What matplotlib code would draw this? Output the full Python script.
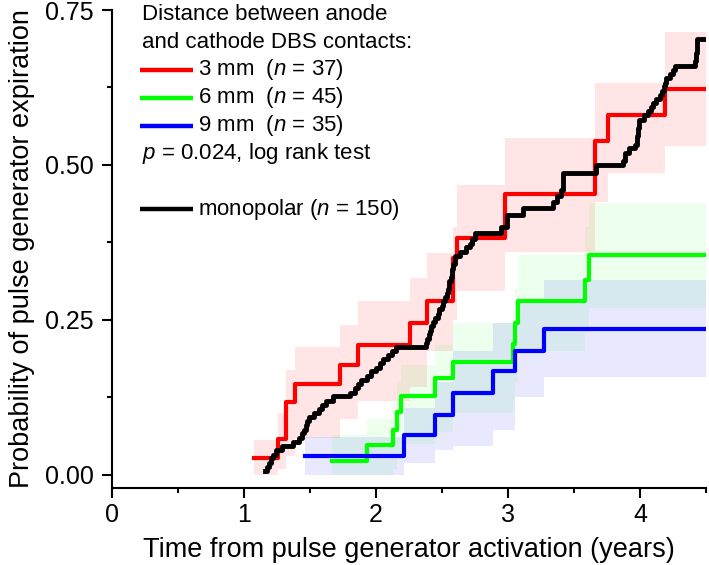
import matplotlib
matplotlib.use('Agg')
from matplotlib import pyplot as plt
from matplotlib.ticker import MultipleLocator, FormatStrFormatter
import numpy as np

plt.rcParams['font.family'] = ['Liberation Sans', 'DejaVu Sans']
plt.rcParams['mathtext.fontset'] = 'custom'
plt.rcParams['mathtext.rm'] = 'Liberation Sans'
plt.rcParams['mathtext.it'] = 'Liberation Sans:italic'

# 3 mm group (n = 37): step times, cumulative probability and CI band
red_t = [1.075, 1.255, 1.32, 1.386, 1.727, 1.866, 2.258, 2.384, 2.586, 2.61,
         2.977, 3.66, 3.76, 4.19, 4.5]
red_p = [0.028, 0.058, 0.117, 0.146, 0.177, 0.209, 0.245, 0.28, 0.35, 0.382,
         0.454, 0.538, 0.58, 0.622, 0.622]
red_hi = [0.056, 0.10, 0.17, 0.207, 0.242, 0.28, 0.317, 0.358, 0.40, 0.468,
          0.543, 0.632, 0.632, 0.715, 0.715]
red_lo = [0.0, 0.01, 0.03, 0.06, 0.09, 0.12, 0.142, 0.20, 0.25, 0.296,
          0.36, 0.44, 0.487, 0.53, 0.53]

# 6 mm group (n = 45)
green_t = [1.664, 1.93, 2.13, 2.157, 2.19, 2.45, 2.586, 3.04, 3.05, 3.078,
           3.58, 3.61, 4.5]
green_p = [0.022, 0.048, 0.073, 0.102, 0.128, 0.156, 0.183, 0.212, 0.245, 0.28,
           0.315, 0.355, 0.355]
green_hi = [0.065, 0.09, 0.12, 0.15, 0.177, 0.21, 0.245, 0.27, 0.30, 0.355,
            0.40, 0.438, 0.438]
green_lo = [0.0, 0.0, 0.01, 0.03, 0.05, 0.07, 0.10, 0.12, 0.15, 0.20,
            0.23, 0.269, 0.269]

# 9 mm group (n = 35)
blue_t = [1.46, 2.21, 2.45, 2.586, 2.89, 3.05, 3.27, 4.5]
blue_p = [0.031, 0.065, 0.097, 0.132, 0.167, 0.2, 0.235, 0.235]
blue_hi = [0.062, 0.108, 0.15, 0.20, 0.245, 0.28, 0.315, 0.315]
blue_lo = [0.0, 0.02, 0.04, 0.046, 0.073, 0.126, 0.158, 0.158]

# monopolar (n = 150)
black_t = [1.159, 1.175, 1.19, 1.205, 1.22, 1.245, 1.29, 1.37,
           1.42, 1.44, 1.455, 1.47, 1.48, 1.49, 1.53, 1.57, 1.59, 1.62, 1.675,
           1.80, 1.84, 1.86, 1.89, 1.93, 1.96, 2.0, 2.03, 2.05, 2.09, 2.12, 2.15,
           2.38, 2.39, 2.40, 2.41, 2.42, 2.43, 2.45, 2.47, 2.48, 2.50, 2.51, 2.52,
           2.535, 2.545, 2.555, 2.565, 2.575, 2.585, 2.595, 2.60, 2.64, 2.68,
           2.71, 2.73, 2.75, 2.95, 2.99, 3.116, 3.34, 3.37, 3.40, 3.415, 3.42,
           3.67, 3.87, 3.885, 3.92, 3.96, 3.975, 3.985, 3.995, 4.03, 4.06, 4.08,
           4.10, 4.12, 4.15, 4.17, 4.18, 4.19, 4.20, 4.23, 4.25, 4.265, 4.417,
           4.425, 4.43, 4.5]
black_p = [0.007, 0.013, 0.02, 0.027, 0.033, 0.04, 0.047, 0.053,
           0.06, 0.067, 0.073, 0.08, 0.087, 0.094, 0.1, 0.107, 0.113, 0.12, 0.127,
           0.133, 0.14, 0.147, 0.153, 0.16, 0.167, 0.173, 0.18, 0.187, 0.193, 0.2, 0.207,
           0.213, 0.22, 0.227, 0.233, 0.24, 0.247, 0.253, 0.26, 0.267, 0.273, 0.28, 0.287,
           0.293, 0.3, 0.313, 0.32, 0.333, 0.34, 0.347, 0.353, 0.36, 0.367,
           0.373, 0.38, 0.39, 0.40, 0.42, 0.43, 0.44, 0.45, 0.46, 0.473, 0.487,
           0.50, 0.507, 0.52, 0.527, 0.533, 0.547, 0.56, 0.573, 0.58, 0.587, 0.593,
           0.60, 0.607, 0.613, 0.62, 0.627, 0.633, 0.64, 0.647, 0.653, 0.66, 0.667,
           0.68, 0.704, 0.704]

groups = [
    (red_t, red_p, red_lo, red_hi, '#ff0000', 0.10),
    (green_t, green_p, green_lo, green_hi, '#00ff00', 0.07),
    (blue_t, blue_p, blue_lo, blue_hi, '#0000ff', 0.09),
]

fig = plt.figure(figsize=(7.09, 5.65), dpi=100)
ax = fig.add_axes([112 / 709, 1 - 488 / 565, 594 / 709, 478 / 565])

for t, p, lo, hi, col, a in groups:
    ax.fill_between(t, lo, hi, step='post', color=col, alpha=a, lw=0)
for t, p, lo, hi, col, a in groups:
    ax.step(t, p, where='post', color=col, lw=3.0)
ax.step(black_t, black_p, where='post', color='black', lw=3.5)

ax.set_xlim(0, 4.5)
ax.set_ylim(-0.021, 0.75)
ax.xaxis.set_major_locator(MultipleLocator(1))
ax.xaxis.set_minor_locator(MultipleLocator(0.5))
ax.yaxis.set_major_locator(MultipleLocator(0.25))
ax.yaxis.set_minor_locator(MultipleLocator(0.125))
ax.yaxis.set_major_formatter(FormatStrFormatter('%.2f'))
for s in ['top', 'right']:
    ax.spines[s].set_visible(False)
for s in ['left', 'bottom']:
    ax.spines[s].set_linewidth(1.5)
ax.tick_params(which='major', length=7, width=1.5, labelsize=18, direction='out')
ax.tick_params(axis='y', which='major', pad=6)
ax.tick_params(axis='x', which='major', pad=4)
ax.tick_params(which='minor', length=3.6, width=1.5, direction='out')

ax.set_xlabel('Time from pulse generator activation (years)', fontsize=19.5, labelpad=7)
ax.set_ylabel('Probability of pulse generator expiration', fontsize=19.5, labelpad=7)

# legend block, drawn by hand in axes fraction
def row_y(px):
    return (488 - px) / 478

x_line0, x_line1, x_txt = 28 / 594, 81 / 594, 86 / 594
x_head = 30 / 594
fs = 16
ax.text(x_head, row_y(15), 'Distance between anode', transform=ax.transAxes,
        fontsize=fs, va='center', ha='left')
ax.text(x_head, row_y(42.5), 'and cathode DBS contacts:', transform=ax.transAxes,
        fontsize=fs, va='center', ha='left')
entries = [
    (70, '#ff0000', '3 mm  ($n$ = 37)'),
    (97.7, '#00ff00', '6 mm  ($n$ = 45)'),
    (125.5, '#0000ff', '9 mm  ($n$ = 35)'),
    (209, 'black', 'monopolar ($n$ = 150)'),
]
for py, col, label in entries:
    yy = row_y(py)
    ax.plot([x_line0, x_line1], [yy, yy], color=col, lw=3.2, transform=ax.transAxes,
            clip_on=False, solid_capstyle='butt')
    ax.text(x_txt, yy, label, transform=ax.transAxes, fontsize=fs, va='center', ha='left')
ax.text(x_head, row_y(153), '$p$ = 0.024, log rank test', transform=ax.transAxes,
        fontsize=fs, va='center', ha='left')

fig.savefig('out.png', dpi=100)
